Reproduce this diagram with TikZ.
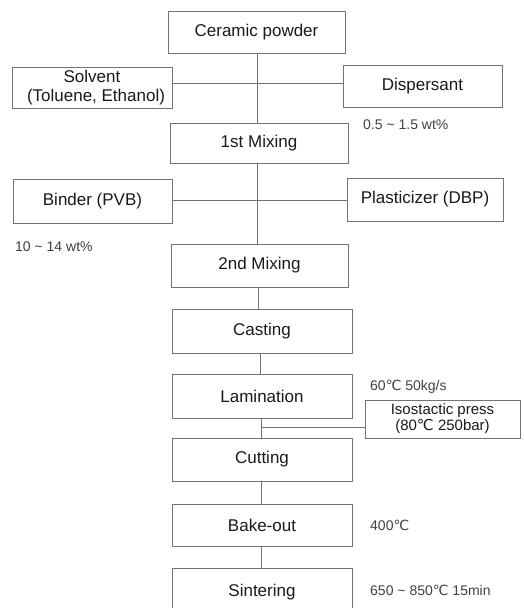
\documentclass[tikz,border=0pt]{standalone}
\usepackage{fontspec}
\setmainfont{Liberation Sans}
\newfontfamily\dejavu{DejaVu Sans}
\newcommand{\degc}{{\dejavu ℃}}
\begin{document}
\begin{tikzpicture}[x=1pt,y=-1pt,
  boxstyle/.style={draw=black!55,line width=0.9pt,rectangle,inner sep=0pt,
    text=black!90,font=\fontsize{17}{18.5}\selectfont,align=center},
  smallbox/.style={boxstyle,font=\fontsize{15}{16}\selectfont},
  conn/.style={draw=black!55,line width=0.9pt},
  note/.style={text=black!75,font=\fontsize{14}{16}\selectfont,inner sep=0pt}]
\useasboundingbox (0,0) rectangle (524,608);
\clip (0,0) rectangle (524,608);
% boxes
\node[boxstyle,minimum width=177pt,minimum height=42pt] (cer) at (256.5,32) {Ceramic powder};
\node[boxstyle,minimum width=160pt,minimum height=41pt] (sol) at (92,87.5) {Solvent\\\hspace*{8pt}(Toluene, Ethanol)};
\node[boxstyle,minimum width=159pt,minimum height=42pt] (disp) at (422.5,86) {Dispersant};
\node[boxstyle,minimum width=178pt,minimum height=40pt] (mix1) at (259,143) {1st Mixing};
\node[boxstyle,minimum width=159pt,minimum height=44pt] (bind) at (92.5,201) {Binder (PVB)};
\node[boxstyle,minimum width=156pt,minimum height=43pt] (plast) at (425,199.5) {Plasticizer (DBP)};
\node[boxstyle,minimum width=177pt,minimum height=43pt] (mix2) at (259.5,265.5) {2nd Mixing};
\node[boxstyle,minimum width=180pt,minimum height=44pt] (cast) at (262,331) {Casting};
\node[boxstyle,minimum width=180pt,minimum height=44pt] (lam) at (262,396) {Lamination};
\node[smallbox,minimum width=155pt,minimum height=38pt] (iso) at (442.5,419) {Isostactic press\\(80\degc{} 250bar)};
\node[boxstyle,minimum width=180pt,minimum height=43pt] (cut) at (262,459.5) {Cutting};
\node[boxstyle,minimum width=180pt,minimum height=42pt] (bake) at (262,525) {Bake-out};
\node[boxstyle,minimum width=180pt,minimum height=48pt] (sint) at (262,592) {Sintering};
% notes
\node[note,anchor=west] (n1) at (363,125) {0.5 \textasciitilde{} 1.5 wt\%};
\node[note,anchor=west] (n2) at (15,247) {10 \textasciitilde{} 14 wt\%};
\node[note,anchor=west] (n3) at (370,387) {60\degc{} 50kg/s};
\node[note,anchor=west] (n4) at (370,525) {400\degc};
\node[note,anchor=west] (n5) at (370,590) {650 \textasciitilde{} 850\degc{} 15min};
% junctions
\coordinate (j1) at (257,83);
\coordinate (j2) at (257,200);
\coordinate (j3) at (261,427);
% connectors
\draw[conn] (j1 |- cer.south) -- (j1 |- mix1.north);
\draw[conn] (sol.east |- j1) -- (disp.west |- j1);
\draw[conn] (j2 |- mix1.south) -- (j2 |- mix2.north);
\draw[conn] (bind.east |- j2) -- (plast.west |- j2);
\coordinate (j4) at (258,0);
\draw[conn] (j4 |- mix2.south) -- (j4 |- cast.north);
\coordinate (j5) at (260,0);
\draw[conn] (j5 |- cast.south) -- (j5 |- lam.north);
\draw[conn] (j3 |- lam.south) -- (j3 |- cut.north);
\draw[conn] (j3) -- (iso.west |- j3);
\draw[conn] (j3 |- cut.south) -- (j3 |- bake.north);
\draw[conn] (j3 |- bake.south) -- (j3 |- sint.north);
\end{tikzpicture}
\end{document}
